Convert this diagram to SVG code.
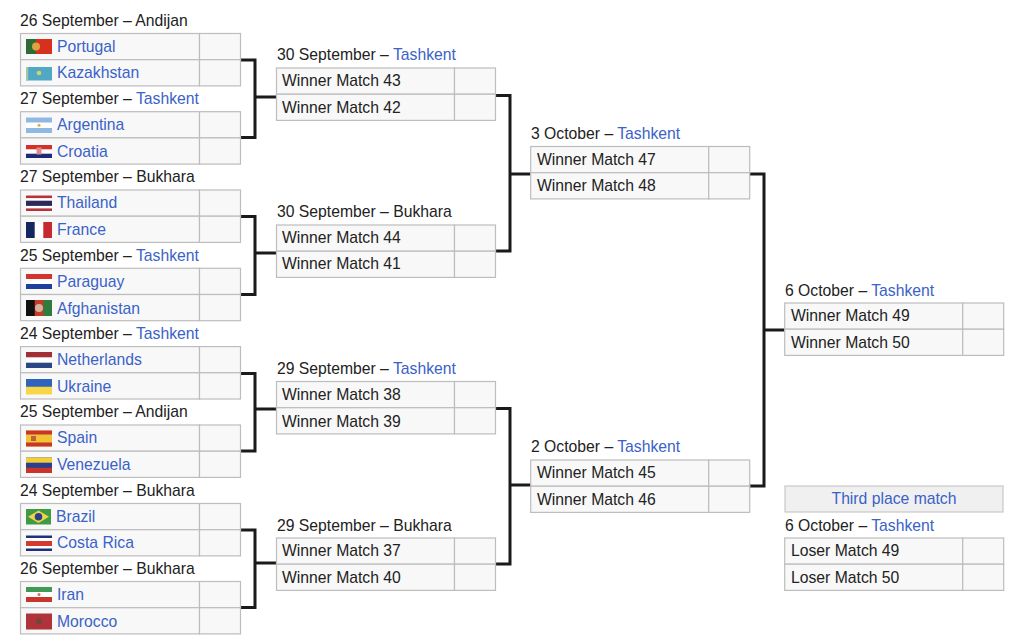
<svg xmlns="http://www.w3.org/2000/svg" width="1024" height="643" viewBox="0 0 1024 643">
<style>
text{font-family:"Liberation Sans",Arial,sans-serif;font-size:15.72px;fill:#222}
.l{fill:#3a62c8}
.c{fill:#f8f8f8;stroke:#bdbdbd;stroke-width:1.2}
.h{fill:#f0f0f0;stroke:#c8c8c8;stroke-width:1.2}
.w{fill:none;stroke:#1a1a1a;stroke-width:3}
</style>
<defs>
<g id="a"><rect class="c" x="0" y="0" width="179" height="26.2"/><rect class="c" x="179" y="0" width="41" height="26.2"/><rect class="c" x="0" y="26.2" width="179" height="26.2"/><rect class="c" x="179" y="26.2" width="41" height="26.2"/></g>
<g id="m"><rect class="c" x="0" y="0" width="178" height="26.2"/><rect class="c" x="178" y="0" width="41" height="26.2"/><rect class="c" x="0" y="26.2" width="178" height="26.2"/><rect class="c" x="178" y="26.2" width="41" height="26.2"/></g>
</defs>
<g id="connectors" class="w">
<path class="w" d="M241 60H255V137.6H241M255 97H276"/>
<path class="w" d="M241 216.500H255V294.500H241M255 253H276"/>
<path class="w" d="M241 373.500H255V451H241M255 409H276"/>
<path class="w" d="M241 530H255V607.500H241M255 563H276"/>
<path class="w" d="M495 95.500H510V251H495M510 174H531"/>
<path class="w" d="M495 408.500H510V564H495M510 485H531"/>
<path class="w" d="M749 174H764V486H749M764 330H785"/>
</g>
<g id="m1"><text x="20" y="25.500">26 September – Andijan</text><use href="#a" x="20.500" y="33.500"/>
<rect x="26" y="39" width="26" height="15" fill="#d8301f"/><rect x="26" y="39" width="10" height="15" fill="#2f6b35"/><circle cx="36" cy="46.500" r="4" fill="#d9a441"/>
<text class="l" x="57" y="51.500">Portugal</text>
<rect x="26" y="67" width="26" height="13.500" fill="#4fa8c4"/><rect x="26" y="67" width="2.200" height="13.500" fill="#a9c6a0"/><circle cx="39" cy="73" r="2.300" fill="#d8cf6a"/>
<text class="l" x="57" y="78">Kazakhstan</text></g>
<g id="m2"><text x="20" y="104">27 September – <tspan class="l">Tashkent</tspan></text><use href="#a" x="20.500" y="111.700"/>
<rect x="26" y="117.500" width="26" height="15.500" fill="#fff"/><rect x="26" y="117.500" width="26" height="5" fill="#8fb9e2"/><rect x="26" y="128" width="26" height="5" fill="#8fb9e2"/><circle cx="39" cy="125.300" r="1.500" fill="#e2ad3c"/>
<text class="l" x="57" y="129.500">Argentina</text>
<rect x="26" y="145" width="26" height="13" fill="#fff"/><rect x="26" y="145" width="26" height="4.300" fill="#d3302c"/><rect x="26" y="153.700" width="26" height="4.300" fill="#1d2a7c"/><rect x="36.500" y="147.500" width="5" height="7" fill="#e0888a"/>
<text class="l" x="57" y="156.500">Croatia</text></g>
<g id="m3"><text x="20" y="182">27 September – Bukhara</text><use href="#a" x="20.500" y="190"/>
<rect x="26" y="195.500" width="26" height="15.500" fill="#fff"/><rect x="26" y="195.500" width="26" height="2.600" fill="#b5343c"/><rect x="26" y="200.700" width="26" height="5.200" fill="#2d2a5a"/><rect x="26" y="208.400" width="26" height="2.600" fill="#b5343c"/>
<text class="l" x="57" y="207.500">Thailand</text>
<rect x="26" y="222" width="26" height="16" fill="#fff"/><rect x="26" y="222" width="8.700" height="16" fill="#14275e"/><rect x="43.300" y="222" width="8.700" height="16" fill="#c62a2e"/>
<text class="l" x="57" y="234.500">France</text></g>
<g id="m4"><text x="20" y="260.500">25 September – <tspan class="l">Tashkent</tspan></text><use href="#a" x="20.500" y="268.300"/>
<rect x="26" y="274" width="26" height="15" fill="#fff"/><rect x="26" y="274" width="26" height="5" fill="#d4322c"/><rect x="26" y="284" width="26" height="5" fill="#1f3f9c"/>
<text class="l" x="57" y="286.500">Paraguay</text>
<rect x="26" y="300" width="26" height="16" fill="#c8392a"/><rect x="26" y="300" width="8.700" height="16" fill="#111"/><rect x="43.300" y="300" width="8.700" height="16" fill="#2f7d3c"/><circle cx="39" cy="308" r="4" fill="#d8b0a0"/>
<text class="l" x="57" y="313.500">Afghanistan</text></g>
<g id="m5"><text x="20" y="339">24 September – <tspan class="l">Tashkent</tspan></text><use href="#a" x="20.500" y="346.600"/>
<rect x="26" y="352" width="26" height="16" fill="#fff"/><rect x="26" y="352" width="26" height="5.300" fill="#a12f36"/><rect x="26" y="362.700" width="26" height="5.300" fill="#2a4684"/>
<text class="l" x="57" y="364.500">Netherlands</text>
<rect x="26" y="379" width="26" height="15.500" fill="#f7d648"/><rect x="26" y="379" width="26" height="7.750" fill="#2f64bd"/>
<text class="l" x="57" y="391.500">Ukraine</text></g>
<g id="m6"><text x="20" y="417">25 September – Andijan</text><use href="#a" x="20.500" y="425"/>
<rect x="26" y="430.500" width="26" height="16" fill="#f0c435"/><rect x="26" y="430.500" width="26" height="4" fill="#c8352b"/><rect x="26" y="442.500" width="26" height="4" fill="#c8352b"/><rect x="31" y="436" width="5" height="5" fill="#c0603a"/>
<text class="l" x="57" y="443">Spain</text>
<rect x="26" y="457.500" width="26" height="15.500" fill="#2a3f8f"/><rect x="26" y="457.500" width="26" height="5.200" fill="#f2cf3a"/><rect x="26" y="467.800" width="26" height="5.200" fill="#c8352b"/>
<text class="l" x="57" y="469.500">Venezuela</text></g>
<g id="m7"><text x="20" y="495.500">24 September – Bukhara</text><use href="#a" x="20.500" y="503.500"/>
<rect x="26" y="509" width="25" height="15.500" fill="#3f9a45"/><path d="M28 516.700L38.500 510.500L49 516.700L38.500 523Z" fill="#f2d34a"/><circle cx="38.500" cy="516.700" r="3.800" fill="#2b3f86"/>
<text class="l" x="56" y="521.500">Brazil</text>
<rect x="26" y="535.500" width="26" height="15.500" fill="#fff"/><rect x="26" y="535.500" width="26" height="2.500" fill="#1f2f80"/><rect x="26" y="548.500" width="26" height="2.500" fill="#1f2f80"/><rect x="26" y="541" width="26" height="5" fill="#d4382e"/>
<text class="l" x="57" y="547.500">Costa Rica</text></g>
<g id="m8"><text x="20" y="573.500">26 September – Bukhara</text><use href="#a" x="20.500" y="581.500"/>
<rect x="26" y="587" width="26" height="15" fill="#fff"/><rect x="26" y="587" width="26" height="5" fill="#3f9a55"/><rect x="26" y="597" width="26" height="5" fill="#c8352b"/><circle cx="39" cy="594.500" r="1.500" fill="#d66"/>
<text class="l" x="57" y="599.500">Iran</text>
<rect x="26" y="613.500" width="26" height="16" fill="#b0323a"/><circle cx="39" cy="621.500" r="2.800" fill="#6a4a36"/>
<text class="l" x="57" y="626.500">Morocco</text></g>
<g id="q1"><text x="277" y="59.500">30 September – <tspan class="l">Tashkent</tspan></text><use href="#m" x="276.500" y="68"/><text x="282" y="86">Winner Match 43</text><text x="282" y="112.500">Winner Match 42</text></g>
<g id="q2"><text x="277" y="216.500">30 September – Bukhara</text><use href="#m" x="276.500" y="225"/><text x="282" y="243">Winner Match 44</text><text x="282" y="269">Winner Match 41</text></g>
<g id="q3"><text x="277" y="373.500">29 September – <tspan class="l">Tashkent</tspan></text><use href="#m" x="276.500" y="381.500"/><text x="282" y="399.500">Winner Match 38</text><text x="282" y="426.500">Winner Match 39</text></g>
<g id="q4"><text x="277" y="530.500">29 September – Bukhara</text><use href="#m" x="276.500" y="538"/><text x="282" y="556">Winner Match 37</text><text x="282" y="582.500">Winner Match 40</text></g>
<g id="s1"><text x="531" y="138.500">3 October – <tspan class="l">Tashkent</tspan></text><use href="#m" x="530.700" y="146.500"/><text x="537" y="164.500">Winner Match 47</text><text x="537" y="191">Winner Match 48</text></g>
<g id="s2"><text x="531" y="451.500">2 October – <tspan class="l">Tashkent</tspan></text><use href="#m" x="530.700" y="460"/><text x="537" y="478">Winner Match 45</text><text x="537" y="504.500">Winner Match 46</text></g>
<g id="final"><text x="785" y="295.500">6 October – <tspan class="l">Tashkent</tspan></text><use href="#m" x="784.700" y="303"/><text x="791" y="321">Winner Match 49</text><text x="791" y="347.500">Winner Match 50</text></g>
<g id="third-title"><rect class="h" x="785" y="486" width="218" height="26"/><text class="l" x="894" y="504" text-anchor="middle">Third place match</text></g>
<g id="third"><text x="785" y="530.500">6 October – <tspan class="l">Tashkent</tspan></text><use href="#m" x="784.700" y="538"/><text x="791" y="556">Loser Match 49</text><text x="791" y="582.500">Loser Match 50</text></g>
</svg>
